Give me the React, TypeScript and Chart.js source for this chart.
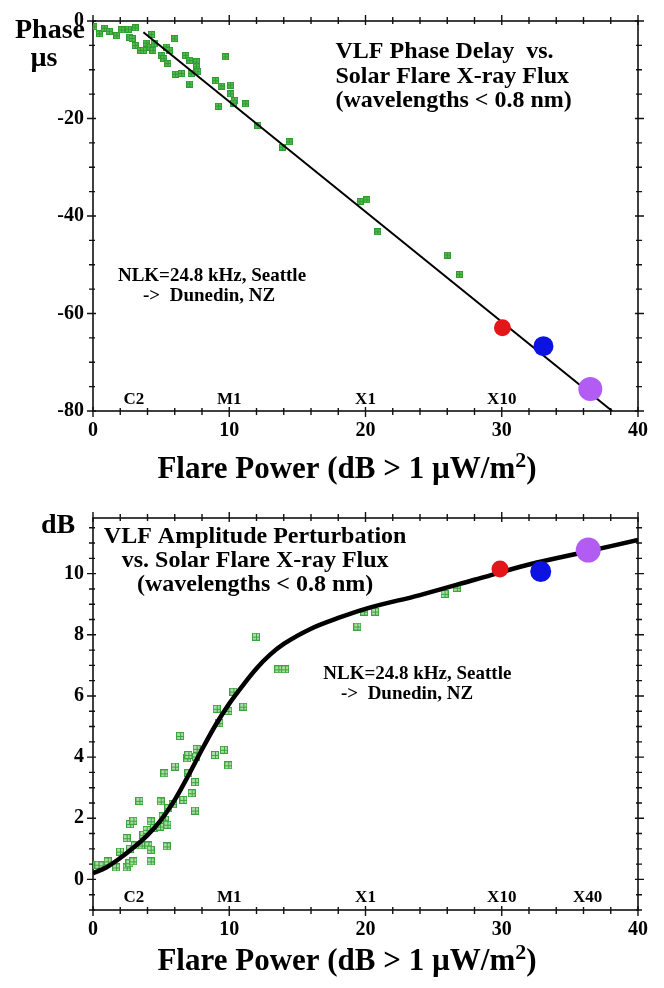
import React, { useEffect, useRef } from 'react';
import { Chart, registerables } from 'chart.js';
Chart.register(...registerables);

const FONT = "'Liberation Serif', 'Times New Roman', serif";

// ---------- shared axis data ----------
const xTickValues = [0, 10, 20, 30, 40];
const flareColors = ['#e4161a', '#0b12e2', '#b25cf4'];
const classLabels = ['C2', 'M1', 'X1', 'X10'];
const classX = [3, 10, 20, 30];
const classLabels2 = ['C2', 'M1', 'X1', 'X10', 'X40'];
const classX2 = [3, 10, 20, 30, 36.3];

// ---------- top chart: phase delay ----------
const phaseYTicks = [0, -20, -40, -60, -80];
const phaseX = [
  0.07, 0.47, 0.83, 1.2, 1.74, 2.1, 2.6, 2.7, 3.1, 2.87, 3.1, 3.5, 3.7, 3.9, 4.3, 4.2, 4.4, 4.48,
  5.05, 5.2, 5.5, 5.4, 5.6, 6.0, 6.05, 6.5, 6.8, 7.1, 7.1, 7.2, 7.6, 7.6, 7.7, 9.7, 9.0, 9.4,
  10.1, 10.1, 10.4, 9.2, 11.2, 10.3, 12.1, 13.9, 14.4, 19.6, 20.1, 20.9, 26.0, 26.9,
];
const phaseY = [
  -1.16, -2.64, -1.48, -2.09, -3.05, -1.83, -1.69, -3.31, -1.42, -3.59, -5.02, -6.03, -6.03, -4.53, -2.78, -5.34, -6.03, -4.67,
  -7.05, -7.72, -8.73, -5.34, -6.03, -3.65, -10.9, -10.76, -7.05, -8.06, -12.93, -10.76, -8.39, -9.4, -10.42, -7.37, -12.24, -13.34,
  -13.14, -14.96, -16.3, -17.5, -17.0, -16.85, -21.46, -25.85, -24.77, -37.0, -36.7, -43.25, -48.0, -52.0,
];
const phaseFitX = [3.7, 38.1];
const phaseFitY = [-2.3, -80];
const phaseFlareX = [30.05, 33.06, 36.5];
const phaseFlareY = [-62.9, -66.7, -75.5];
const phaseFlareR = [8.5, 10, 12];

// ---------- bottom chart: amplitude ----------
const ampYTicks = [0, 2, 4, 6, 8, 10];
const ampX = [
  0.02, 0.39, 0.71, 1.08, 1.69, 1.98, 2.47, 2.67, 2.96, 2.47, 2.72, 2.96, 2.72, 3.08, 3.4, 3.57, 4.06, 4.23,
  4.23, 3.7, 3.94, 4.23, 4.48, 4.92, 5.11, 5.28, 5.46, 5.53, 5.85, 4.97, 5.41, 5.24, 6.02, 6.39, 6.63, 7.0,
  6.92, 7.0, 7.61, 7.56, 7.49, 7.24, 7.49, 8.95, 9.61, 9.93, 9.27, 9.08, 9.93, 10.3, 11.03, 11.96, 13.6, 14.1,
  19.4, 19.9, 20.7, 25.8, 26.7,
];
const ampY = [
  0.46, 0.48, 0.46, 0.59, 0.39, 0.91, 0.39, 0.53, 0.59, 1.35, 1.81, 1.92, 1.0, 1.11, 2.57, 1.11, 1.11, 0.97,
  0.59, 1.46, 1.62, 1.9, 1.68, 1.73, 2.06, 1.95, 1.79, 2.33, 2.46, 2.55, 1.08, 3.47, 3.69, 4.69, 2.6, 3.47,
  3.96, 4.07, 4.27, 4.02, 3.18, 2.82, 2.25, 4.07, 4.24, 3.73, 5.11, 5.58, 5.51, 6.14, 5.65, 7.94, 6.87, 6.87,
  8.27, 8.76, 8.76, 9.34, 9.54,
];
const ampFitX = [0, 1, 2, 3, 4, 5, 6, 7, 8, 9, 10, 11, 12, 13, 14, 16, 18, 20, 24, 28, 32, 36, 40];
const ampFitY = [0.2, 0.4, 0.7, 1.05, 1.45, 1.95, 2.6, 3.4, 4.25, 5.05, 5.75, 6.35, 6.9, 7.35, 7.7, 8.2, 8.55, 8.85, 9.3, 9.8, 10.3, 10.7, 11.1];
const ampFlareX = [29.87, 32.86, 36.35];
const ampFlareY = [10.15, 10.07, 10.77];
const ampFlareR = [8.5, 10.5, 12.5];

function makeMarker(size: number, outer: string, inner: string) {
  const c = document.createElement('canvas');
  c.width = size;
  c.height = size;
  const g = c.getContext('2d')!;
  g.fillStyle = outer;
  g.fillRect(0, 0, size, size);
  g.fillStyle = inner;
  g.fillRect(1, 1, size - 2, size - 2);
  g.fillStyle = outer;
  const m = Math.floor(size / 2);
  g.fillRect(m, 1, 1, size - 2);
  g.fillRect(1, m, size - 2, 1);
  return c;
}

type TextItem = { text: string; x: number; y: number; size: number; align?: CanvasTextAlign; pixel?: boolean };

function makeDecor(cfg: {
  id: string;
  xMinor: number; xMajor: number; yMinor: number; yMajor: number;
  texts: TextItem[];
  titleX: number; titleY: number;
}) {
  return {
    id: cfg.id,
    beforeDatasetsDraw(chart: any) {
      const { ctx, chartArea: a, scales } = chart;
      const xs = scales.x, ys = scales.y;
      ctx.save();
      ctx.strokeStyle = '#111';
      ctx.lineWidth = 1.6;
      ctx.strokeRect(a.left, a.top, a.right - a.left, a.bottom - a.top);
      ctx.beginPath();
      ctx.lineWidth = 1.4;
      for (let i = 0; ; i++) {
        const v = xs.min + i * cfg.xMinor;
        if (v > xs.max + 1e-9) break;
        const major = Math.abs(v / cfg.xMajor - Math.round(v / cfg.xMajor)) < 1e-6;
        const px = xs.getPixelForValue(v);
        const out = major ? 6 : 4, inn = major ? 4 : 3;
        ctx.moveTo(px, a.bottom + out); ctx.lineTo(px, a.bottom - inn);
        ctx.moveTo(px, a.top - out); ctx.lineTo(px, a.top + inn);
      }
      const start = Math.ceil(ys.min / cfg.yMinor - 1e-9) * cfg.yMinor;
      for (let i = 0; ; i++) {
        const v = start + i * cfg.yMinor;
        if (v > ys.max + 1e-9) break;
        const major = Math.abs(v / cfg.yMajor - Math.round(v / cfg.yMajor)) < 1e-6;
        const py = ys.getPixelForValue(v);
        const out = major ? 6 : 4, inn = major ? 3 : 2;
        ctx.moveTo(a.left - out, py); ctx.lineTo(a.left + inn, py);
        ctx.moveTo(a.right + out, py); ctx.lineTo(a.right - inn, py);
      }
      ctx.stroke();
      ctx.restore();
    },
    afterDatasetsDraw(chart: any) {
      const { ctx, scales } = chart;
      const xs = scales.x, ys = scales.y;
      ctx.save();
      ctx.fillStyle = '#000';
      ctx.textBaseline = 'middle';
      for (const t of cfg.texts) {
        ctx.font = `bold ${t.size}px ${FONT}`;
        ctx.textAlign = t.align || 'left';
        const px = t.pixel ? t.x : xs.getPixelForValue(t.x);
        const py = t.pixel ? t.y : ys.getPixelForValue(t.y);
        ctx.fillText(t.text, px, py);
      }
      // x-axis title with superscript
      const parts = [
        { t: 'Flare Power (dB > 1 µW/m', s: 31, rise: 0 },
        { t: '2', s: 22, rise: 11 },
        { t: ')', s: 31, rise: 0 },
      ];
      let total = 0;
      for (const p of parts) { ctx.font = `bold ${p.s}px ${FONT}`; total += ctx.measureText(p.t).width; }
      let x = cfg.titleX - total / 2;
      ctx.textAlign = 'left';
      ctx.textBaseline = 'alphabetic';
      for (const p of parts) {
        ctx.font = `bold ${p.s}px ${FONT}`;
        ctx.fillText(p.t, x, cfg.titleY - p.rise);
        x += ctx.measureText(p.t).width;
      }
      ctx.restore();
    },
  };
}

function pts(xs: number[], ys: number[]) {
  return xs.map((x, i) => ({ x, y: ys[i] }));
}

function baseScales(yMin: number, yMax: number, yTicks: number[], xHeight: number) {
  const tickFont = { family: FONT, size: 20, weight: 'bold' as const };
  return {
    x: {
      type: 'linear' as const, min: 0, max: 40,
      grid: { display: false, drawTicks: false },
      border: { display: false },
      ticks: { font: tickFont, color: '#000', padding: 8, maxRotation: 0 },
      afterBuildTicks: (s: any) => { s.ticks = xTickValues.map((v) => ({ value: v })); },
      afterFit: (s: any) => { s.height = xHeight; },
    },
    y: {
      type: 'linear' as const, min: yMin, max: yMax,
      grid: { display: false, drawTicks: false },
      border: { display: false },
      ticks: { font: tickFont, color: '#000', padding: 9 },
      afterBuildTicks: (s: any) => { s.ticks = yTicks.map((v) => ({ value: v })); },
      afterFit: (s: any) => { s.width = 93; },
    },
  };
}

export default function App() {
  const c1 = useRef<HTMLCanvasElement>(null);
  const c2 = useRef<HTMLCanvasElement>(null);

  useEffect(() => {
    const mTop = makeMarker(7, '#2f9c2f', '#56bb56');
    const mBot = makeMarker(8, '#3aa53a', '#a9dca9');

    const chart1 = new Chart(c1.current!, {
      type: 'scatter',
      data: {
        datasets: [
          {
            data: pts(phaseFlareX, phaseFlareY),
            pointBackgroundColor: flareColors,
            pointBorderWidth: 0,
            pointRadius: phaseFlareR,
            pointStyle: 'circle',
          } as any,
          {
            data: pts(phaseFitX, phaseFitY),
            showLine: true,
            borderColor: '#000',
            borderWidth: 2,
            pointRadius: 0,
          },
          {
            data: pts(phaseX, phaseY),
            pointStyle: mTop as any,
            pointRadius: 4,
          },
        ],
      },
      options: {
        animation: false,
        responsive: false,
        devicePixelRatio: 1,
        events: [],
        layout: { padding: { top: 17, right: 26, left: 0, bottom: 0 } },
        plugins: { legend: { display: false }, tooltip: { enabled: false } },
        scales: baseScales(-80, 0, phaseYTicks, 83) as any,
      },
      plugins: [
        makeDecor({
          id: 'decorTop',
          xMinor: 2, xMajor: 10, yMinor: 5, yMajor: 20,
          titleX: 347, titleY: 478,
          texts: [
            { text: 'Phase', x: 50, y: 31, size: 28, align: 'center', pixel: true },
            { text: 'µs', x: 44, y: 59, size: 28, align: 'center', pixel: true },
            { text: 'VLF Phase Delay  vs.', x: 17.8, y: -6.3, size: 24 },
            { text: 'Solar Flare X-ray Flux', x: 17.8, y: -11.5, size: 24 },
            { text: '(wavelengths < 0.8 nm)', x: 17.8, y: -16.4, size: 24 },
            { text: 'NLK=24.8 kHz, Seattle', x: 1.83, y: -52.4, size: 19 },
            { text: '->  Dunedin, NZ', x: 3.67, y: -56.5, size: 19 },
            ...classLabels.map((t, i) => ({ text: t, x: classX[i], y: -77.6, size: 17, align: 'center' as CanvasTextAlign })),
          ],
        }),
      ],
    });

    const chart2 = new Chart(c2.current!, {
      type: 'scatter',
      data: {
        datasets: [
          {
            data: pts(ampFlareX, ampFlareY),
            pointBackgroundColor: flareColors,
            pointBorderWidth: 0,
            pointRadius: ampFlareR,
            pointStyle: 'circle',
          } as any,
          {
            data: pts(ampFitX, ampFitY),
            showLine: true,
            borderColor: '#000',
            borderWidth: 4.5,
            pointRadius: 0,
            tension: 0.4,
            cubicInterpolationMode: 'monotone',
          },
          {
            data: pts(ampX, ampY),
            pointStyle: mBot as any,
            pointRadius: 4,
          },
        ],
      },
      options: {
        animation: false,
        responsive: false,
        devicePixelRatio: 1,
        events: [],
        layout: { padding: { top: 24, right: 26, left: 0, bottom: 0 } },
        plugins: { legend: { display: false }, tooltip: { enabled: false } },
        scales: baseScales(-1, 11.82, ampYTicks, 78) as any,
      },
      plugins: [
        makeDecor({
          id: 'decorBottom',
          xMinor: 2, xMajor: 10, yMinor: 0.5, yMajor: 2,
          titleX: 347, titleY: 476,
          texts: [
            { text: 'dB', x: 58, y: 32, size: 28, align: 'center', pixel: true },
            { text: 'VLF Amplitude Perturbation', x: 11.9, y: 11.22, size: 24, align: 'center' },
            { text: 'vs. Solar Flare X-ray Flux', x: 11.9, y: 10.42, size: 24, align: 'center' },
            { text: '(wavelengths < 0.8 nm)', x: 11.9, y: 9.64, size: 24, align: 'center' },
            { text: 'NLK=24.8 kHz, Seattle', x: 16.9, y: 6.72, size: 19 },
            { text: '->  Dunedin, NZ', x: 18.2, y: 6.05, size: 19 },
            ...classLabels2.map((t, i) => ({ text: t, x: classX2[i], y: -0.59, size: 17, align: 'center' as CanvasTextAlign })),
          ],
        }),
      ],
    });

    return () => {
      chart1.destroy();
      chart2.destroy();
    };
  }, []);

  return (
    <div style={{ position: 'absolute', left: 0, top: 0, width: 664, height: 988, background: '#fff' }}>
      <canvas ref={c1} width={664} height={494} style={{ position: 'absolute', left: 0, top: 0, width: 664, height: 494 }} />
      <canvas ref={c2} width={664} height={494} style={{ position: 'absolute', left: 0, top: 494, width: 664, height: 494 }} />
    </div>
  );
}
